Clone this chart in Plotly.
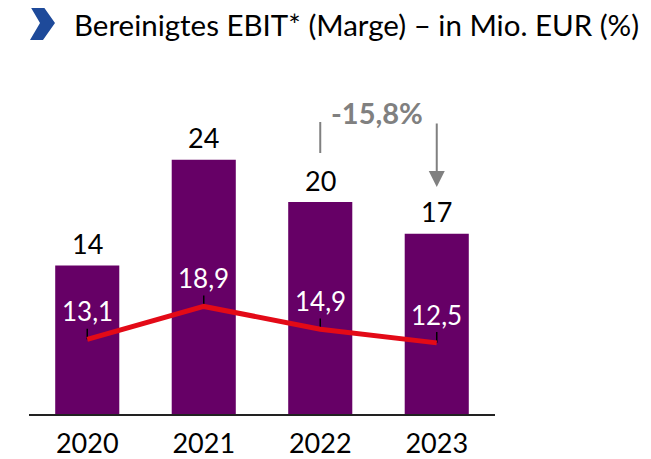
import plotly.graph_objects as go

years = ["2020", "2021", "2022", "2023"]
ebit = [14, 24, 20, 17]
ebit_labels = ["14", "24", "20", "17"]
margin = [13.1, 18.9, 14.9, 12.5]
margin_labels = ["13,1", "18,9", "14,9", "12,5"]
change_label = "-15,8%"
title = "Bereinigtes EBIT* (Marge) – in Mio. EUR (%)"

OFF = 8  # default page body margin
W, H = 651 - OFF, 459 - OFF
# plot area in screen pixels: x 29..495, y 60..414
L, R, T, B = 29 - OFF, W - (495 - OFF), 60 - OFF, H - (414 - OFF)
PW, PH = W - L - R, H - T - B

def px(x):
    return (x - OFF - L) / PW

def py(y):
    return (H - B - (y - OFF)) / PH

FONT = "Lato"
PURPLE = "#660066"
RED = "#E30A17"
GRAY = "#808080"

idx = list(range(len(years)))

fig = go.Figure()
fig.add_trace(go.Bar(x=idx, y=ebit, marker=dict(color=PURPLE, line=dict(width=0)),
                     width=0.55, yaxis="y", hoverinfo="skip"))
fig.add_trace(go.Scatter(x=idx, y=margin, mode="lines", yaxis="y2",
                         line=dict(color=RED, width=5),
                         error_y=dict(type="data", symmetric=False, array=[1.9] * 4,
                                      arrayminus=[0] * 4, width=0, thickness=1.5,
                                      color="black"),
                         hoverinfo="skip"))

annotations = []
for i, v, t in zip(idx, ebit, ebit_labels):
    annotations.append(dict(x=i, y=v, xref="x", yref="y", text=t, showarrow=False,
                            yanchor="middle", yshift=22,
                            font=dict(family=FONT, size=27, color="black")))
for i, v, t in zip(idx, margin, margin_labels):
    annotations.append(dict(x=i, y=v, xref="x", yref="y2", text=t, showarrow=False,
                            yanchor="middle", yshift=28,
                            font=dict(family=FONT, size=26, color="white")))

annotations.append(dict(x=px(72), y=py(25), xref="paper", yref="paper", text=title,
                        showarrow=False, xanchor="left", yanchor="middle",
                        font=dict(family=FONT, size=29.5, color="black")))
annotations.append(dict(x=px(377), y=py(112), xref="paper", yref="paper",
                        text="<b>" + change_label + "</b>", showarrow=False,
                        xanchor="center", yanchor="middle",
                        font=dict(family=FONT, size=29, color=GRAY)))
annotations.append(dict(x=3, y=py(187), xref="x", yref="paper", text="",
                        showarrow=True, ax=0, ay=-65, axref="pixel", ayref="pixel",
                        arrowhead=2, arrowsize=1.6, arrowwidth=2, arrowcolor=GRAY))

chev = [(30, 6), (43, 6), (55, 23), (43, 40), (30, 40), (40, 23)]
path = "M " + " L ".join(f"{px(a):.5f},{py(b):.5f}" for a, b in chev) + " Z"
shapes = [
    dict(type="path", path=path, xref="paper", yref="paper",
         fillcolor="#1E4A9A", line=dict(width=0)),
    dict(type="line", xref="x", yref="paper", x0=2, x1=2,
         y0=py(122), y1=py(153), line=dict(color=GRAY, width=2)),
]

fig.update_layout(
    width=W, height=H, margin=dict(l=L, r=R, t=T, b=B, autoexpand=False),
    paper_bgcolor="white", plot_bgcolor="white", showlegend=False,
    xaxis=dict(range=[-0.5, 3.5], showgrid=False, zeroline=False, automargin=False,
               tickmode="array", tickvals=idx, ticktext=years,
               showline=True, linecolor="#222222", linewidth=2, ticks="",
               tickfont=dict(family=FONT, size=27, color="black"), ticklabelstandoff=5),
    yaxis=dict(range=[0, 33.4], visible=False, showgrid=False, zeroline=False,
               automargin=False),
    yaxis2=dict(range=[0, 62.2], visible=False, overlaying="y", showgrid=False,
                zeroline=False, automargin=False),
    annotations=annotations, shapes=shapes,
)
fig.write_html("out.html")
